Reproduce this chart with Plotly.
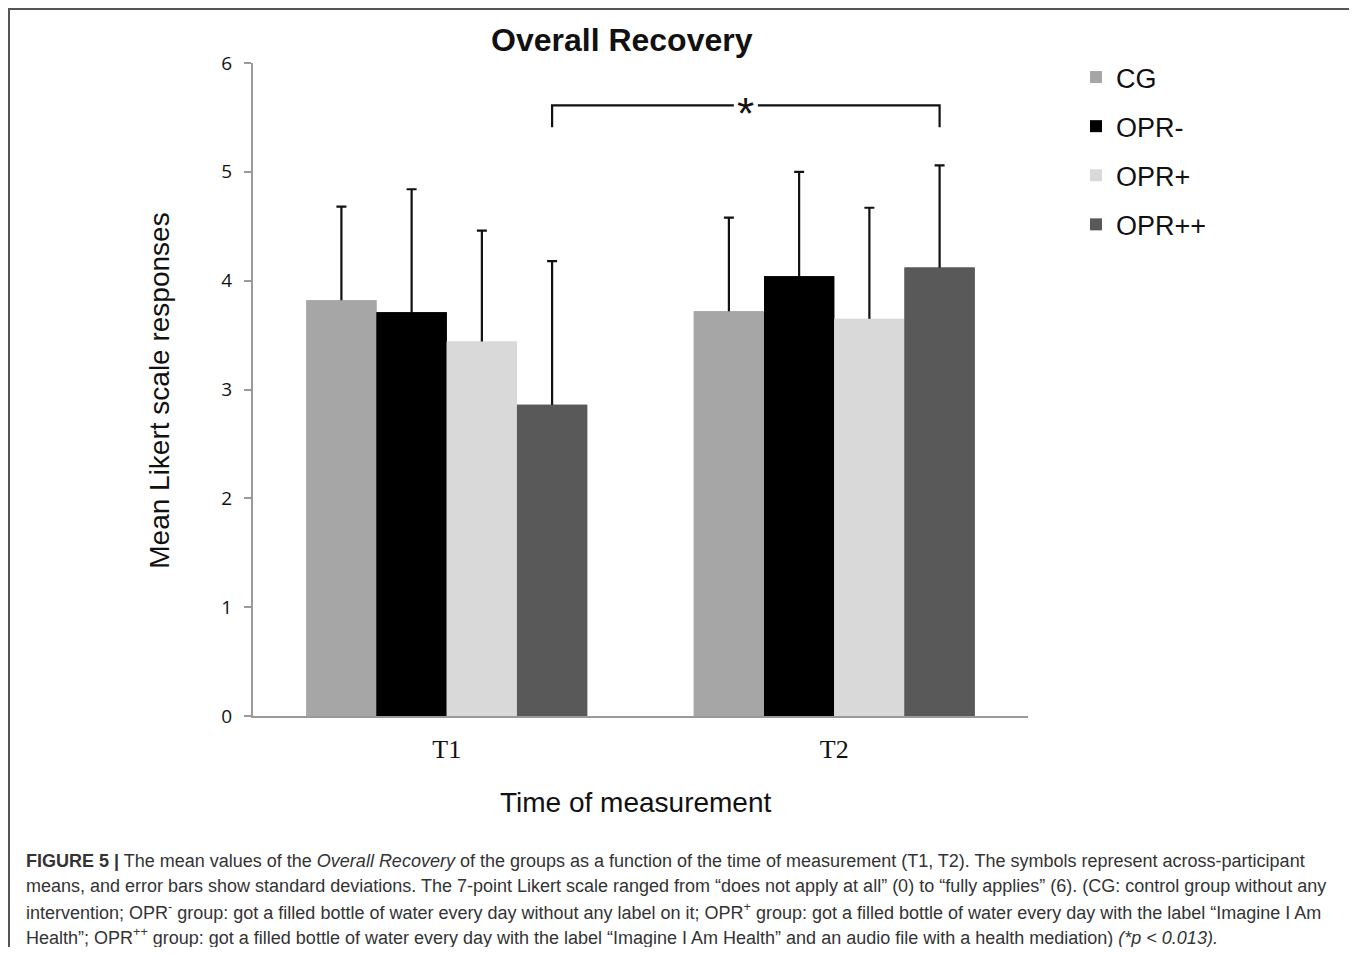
import plotly.graph_objects as go

# ---- data ----
times = ["T1", "T2"]
groups = ["CG", "OPR-", "OPR+", "OPR++"]
means = {
    "CG":    [3.82, 3.72],
    "OPR-":  [3.71, 4.04],
    "OPR+":  [3.44, 3.65],
    "OPR++": [2.86, 4.12],
}
sds = {
    "CG":    [0.86, 0.86],
    "OPR-":  [1.13, 0.96],
    "OPR+":  [1.02, 1.02],
    "OPR++": [1.32, 0.94],
}
colors = {"CG": "#a6a6a6", "OPR-": "#000000", "OPR+": "#d9d9d9", "OPR++": "#595959"}
y_ticks = [0, 1, 2, 3, 4, 5, 6]
sig_y = 5.61
sig_drop = 0.20

caption_lines = [
    "<b>FIGURE 5 |</b> The mean values of the <i>Overall Recovery</i> of the groups as a function of the time of measurement (T1, T2). The symbols represent across-participant",
    "means, and error bars show standard deviations. The 7-point Likert scale ranged from \u201cdoes not apply at all\u201d (0) to \u201cfully applies\u201d (6). (CG: control group without any",
    "intervention; OPR<sup>-</sup> group: got a filled bottle of water every day without any label on it; OPR<sup>+</sup> group: got a filled bottle of water every day with the label \u201cImagine I Am",
    "Health\u201d; OPR<sup>++</sup> group: got a filled bottle of water every day with the label \u201cImagine I Am Health\u201d and an audio file with a health mediation) <i>(*p &lt; 0.013).</i>",
]

# page has an 8px body margin: figure is placed at (8, 8) on screen
OFF = 8
W, H = 1357 - OFF, 955 - 2 * OFF
L, R_, T, B = 253, 1028, 63, 716.5   # plot area in screen pixels
bargap = 0.275

def px_x(px):
    return (px - L) / (R_ - L)

def px_y(py):
    return (B - py) / (B - T)

fig = go.Figure()
for g in groups:
    # bar with error bar (symmetric; lower half hidden by the cover bar drawn next)
    fig.add_trace(go.Bar(
        name=g, x=times, y=means[g], offsetgroup=g, legendgroup=g,
        marker=dict(color=colors[g], line=dict(width=0)),
        error_y=dict(type="data", symmetric=True, array=sds[g],
                     color="#111111", thickness=2.2, width=5),
    ))
    fig.add_trace(go.Bar(
        name=g, x=times, y=means[g], offsetgroup=g, legendgroup=g, showlegend=False,
        marker=dict(color=colors[g], line=dict(width=0)), hoverinfo="skip",
    ))

# significance bracket between OPR++ bars
n = len(groups)
bw = (1 - bargap) / n
off = -(1 - bargap) / 2 + bw * (n - 0.5)
xa, xb = 0 + off, 1 + off
xm = (xa + xb) / 2
gap = 0.031
line = dict(color="#111111", width=2.2)
fig.add_shape(type="path", xref="x", yref="y",
              path=f"M {xa},{sig_y - sig_drop} L {xa},{sig_y} L {xm - gap},{sig_y}", line=line)
fig.add_shape(type="path", xref="x", yref="y",
              path=f"M {xm + gap},{sig_y} L {xb},{sig_y} L {xb},{sig_y - sig_drop}", line=line)
fig.add_annotation(x=xm, y=sig_y, xref="x", yref="y", text="*", showarrow=False,
                   font=dict(family="Liberation Sans", size=44, color="#111111"),
                   yanchor="middle", yshift=-8)

# outer frame
fig.add_shape(type="rect", xref="paper", yref="paper",
              x0=px_x(9), x1=px_x(1355.5), y0=px_y(975), y1=px_y(9),
              line=dict(color="#555555", width=2), fillcolor="rgba(0,0,0,0)", layer="below")

# title
fig.add_annotation(x=px_x(622), y=px_y(40), xref="paper", yref="paper", text="<b>Overall Recovery</b>",
                   showarrow=False, font=dict(family="Liberation Sans", size=32, color="#111111"),
                   xanchor="center", yanchor="middle")
# axis titles
fig.add_annotation(x=px_x(160), y=px_y(391), xref="paper", yref="paper", text="Mean Likert scale responses",
                   showarrow=False, textangle=-90, font=dict(family="Liberation Sans", size=28, color="#111111"),
                   xanchor="center", yanchor="middle")
fig.add_annotation(x=px_x(635), y=px_y(803), xref="paper", yref="paper", text="Time of measurement",
                   showarrow=False, font=dict(family="Liberation Sans", size=28, color="#111111"),
                   xanchor="center", yanchor="middle")

# caption
for k, txt in enumerate(caption_lines):
    fig.add_annotation(x=px_x(24), y=px_y(862 + 25 * k), xref="paper", yref="paper", text=txt,
                       showarrow=False, align="left", xanchor="left", yanchor="middle",
                       font=dict(family="Liberation Sans", size=18, color="#333333"))

fig.update_layout(
    width=W, height=H,
    margin=dict(l=L - OFF, r=W - (R_ - OFF), t=T - OFF, b=H - (B - OFF), pad=0),
    paper_bgcolor="white", plot_bgcolor="white",
    barmode="group", bargap=bargap, bargroupgap=0,
    showlegend=True,
    legend=dict(x=px_x(1076), y=px_y(53), xanchor="left", yanchor="top",
                font=dict(family="Liberation Sans", size=27, color="#111111"),
                tracegroupgap=11, itemwidth=30, bgcolor="rgba(0,0,0,0)"),
    xaxis=dict(showline=True, linecolor="#9a9a9a", linewidth=2, ticks="",
               tickfont=dict(family="Liberation Serif", size=26, color="#111111"),
               ticklabelstandoff=9, showgrid=False, zeroline=False),
    yaxis=dict(range=[0, 6], tickvals=y_ticks, showline=True, linecolor="#9a9a9a", linewidth=2,
               ticks="outside", ticklen=7, tickwidth=1.5, tickcolor="#9a9a9a",
               tickfont=dict(family="Open Sans", size=19, color="#111111"),
               ticklabelstandoff=8, showgrid=False, zeroline=False),
)

fig.write_html("out.html")
